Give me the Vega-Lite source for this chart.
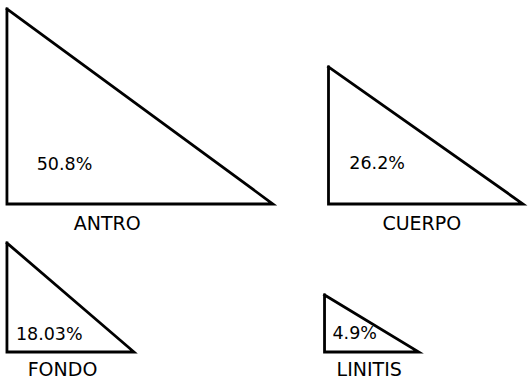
{
  "$schema": "https://vega.github.io/schema/vega-lite/v6.json",
  "width": 529,
  "height": 380,
  "autosize": {"type": "fit", "contains": "padding"},
  "padding": 0,
  "background": "white",
  "config": {"view": {"stroke": null}},
  "datasets": {
    "vertices": [
      {"shape": "ANTRO", "i": 0, "x": 7, "y": 9},
      {"shape": "ANTRO", "i": 1, "x": 7, "y": 204},
      {"shape": "ANTRO", "i": 2, "x": 275, "y": 204},
      {"shape": "ANTRO", "i": 3, "x": 7, "y": 9},
      {"shape": "CUERPO", "i": 0, "x": 331, "y": 67},
      {"shape": "CUERPO", "i": 1, "x": 331, "y": 204},
      {"shape": "CUERPO", "i": 2, "x": 527, "y": 204},
      {"shape": "CUERPO", "i": 3, "x": 331, "y": 67},
      {"shape": "FONDO", "i": 0, "x": 7, "y": 243},
      {"shape": "FONDO", "i": 1, "x": 7, "y": 352},
      {"shape": "FONDO", "i": 2, "x": 135, "y": 352},
      {"shape": "FONDO", "i": 3, "x": 7, "y": 243},
      {"shape": "LINITIS", "i": 0, "x": 327, "y": 295},
      {"shape": "LINITIS", "i": 1, "x": 327, "y": 352},
      {"shape": "LINITIS", "i": 2, "x": 422, "y": 352},
      {"shape": "LINITIS", "i": 3, "x": 327, "y": 295}
    ],
    "names": [
      {"label": "ANTRO", "x": 108, "y": 224},
      {"label": "CUERPO", "x": 425, "y": 224},
      {"label": "FONDO", "x": 63, "y": 370},
      {"label": "LINITIS", "x": 372, "y": 370}
    ],
    "percents": [
      {"label": "50.8%", "x": 37, "y": 165},
      {"label": "26.2%", "x": 352, "y": 164},
      {"label": "18.03%", "x": 16, "y": 335},
      {"label": "4.9%", "x": 335, "y": 334}
    ]
  },
  "layer": [
    {
      "data": {"name": "vertices"},
      "mark": {"type": "line", "color": "black", "strokeWidth": 2.8, "strokeJoin": "miter", "strokeCap": "square"},
      "encoding": {
        "x": {"field": "x", "type": "quantitative", "scale": {"domain": [0, 529], "nice": false, "zero": false}, "axis": null},
        "y": {"field": "y", "type": "quantitative", "scale": {"domain": [0, 380], "nice": false, "zero": false, "reverse": true}, "axis": null},
        "detail": {"field": "shape"},
        "order": {"field": "i"}
      }
    },
    {
      "data": {"name": "names"},
      "mark": {"type": "text", "font": "DejaVu Sans", "fontSize": 19, "align": "center", "baseline": "middle", "color": "black"},
      "encoding": {
        "x": {"field": "x", "type": "quantitative"},
        "y": {"field": "y", "type": "quantitative"},
        "text": {"field": "label"}
      }
    },
    {
      "data": {"name": "percents"},
      "mark": {"type": "text", "font": "DejaVu Sans", "fontSize": 17.5, "align": "left", "baseline": "middle", "color": "black"},
      "encoding": {
        "x": {"field": "x", "type": "quantitative"},
        "y": {"field": "y", "type": "quantitative"},
        "text": {"field": "label"}
      }
    }
  ]
}
